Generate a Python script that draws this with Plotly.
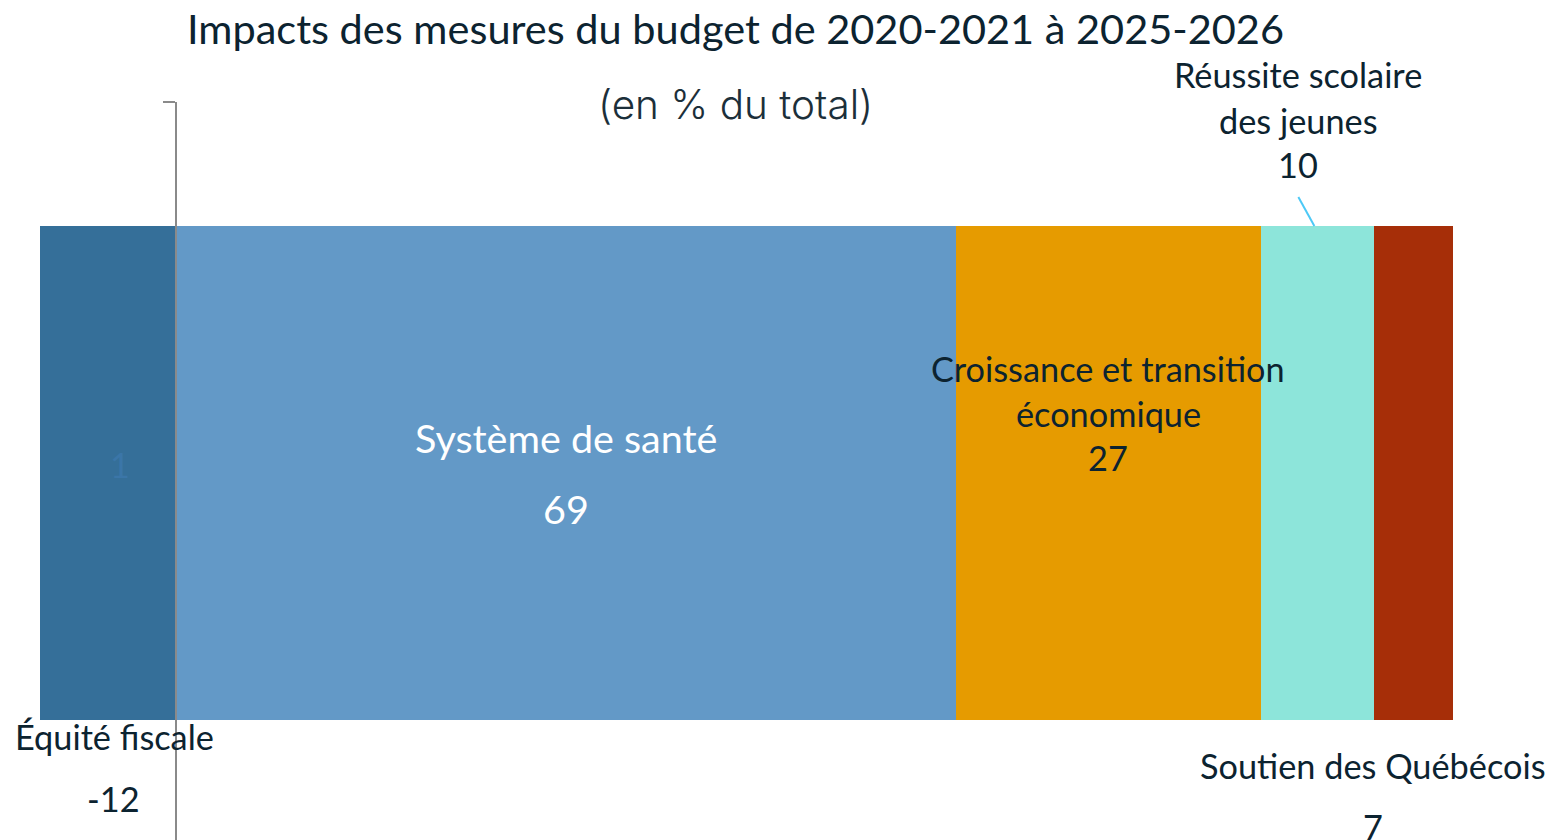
import plotly.graph_objects as go

# Budget measures, share of total impact (%)
categories = [
    "Équité fiscale",
    "Système de santé",
    "Croissance et transition économique",
    "Réussite scolaire des jeunes",
    "Soutien des Québécois",
]
values = [-12, 69, 27, 10, 7]
bar_colors = ["#356f99", "#6399c7", "#e69b00", "#8de5da", "#a62e08"]

title_text = "Impacts des mesures du budget de 2020-2021 à 2025-2026"
subtitle_text = "(en % du total)"

W, H = 1549, 840
X_RANGE = [-15.58, 121.5]
Y_RANGE = [-0.497, 0.503]
TOP, BOTTOM = 102, 0
FONT = "Lato"
DARK = "#0c2330"

fig = go.Figure()
for name, v, c in zip(categories, values, bar_colors):
    fig.add_trace(go.Bar(
        y=[0], x=[v], orientation="h", name=name,
        marker=dict(color=c, line=dict(width=0)),
        width=0.669, showlegend=False, hoverinfo="x+name",
    ))

# segment centres along the stacked bar
centres = []
pos, neg = 0.0, 0.0
for v in values:
    if v < 0:
        centres.append(neg + v / 2)
        neg += v
    else:
        centres.append(pos + v / 2)
        pos += v

plot_h = H - TOP - BOTTOM


def py(px):
    """pixel row -> paper y"""
    return (H - BOTTOM - px) / plot_h


annotations = []


def label(text, x, row, size=34.3, color=DARK, xshift=0, xref="x",
          weight=400, family=FONT):
    annotations.append(dict(
        text=text, x=x, y=py(row), xref=xref, yref="paper",
        xanchor="center", yanchor="middle", showarrow=False,
        xshift=xshift,
        font=dict(family=family, size=size, color=color, weight=weight),
    ))


# titles
label(title_text, 735 / W, 28, size=41.5, xref="paper")
label(subtitle_text, 735 / W, 104, size=40.5, color="#1c2f3a", xref="paper",
      weight=300, family="Inter")

# Équité fiscale (below the bar)
label(categories[0], centres[0], 736, xshift=6)
label(str(values[0]), centres[0], 798, xshift=5)
label("1", centres[0], 465, color="#3b76a8", xshift=12)

# Système de santé (inside)
label(categories[1], centres[1], 437, size=39.5, color="white")
label(str(values[1]), centres[1], 508, size=39.5, color="white")

# Croissance et transition économique (inside)
label("Croissance et transition", centres[2], 368)
label("économique", centres[2], 413)
label(str(values[2]), centres[2], 457)

# Réussite scolaire des jeunes (above, with leader line)
label("Réussite scolaire", centres[3], 75, xshift=-19)
label("des jeunes", centres[3], 120, xshift=-19)
label(str(values[3]), centres[3], 164, xshift=-19)

# Soutien des Québécois (below)
label(categories[4], centres[4], 765, xshift=-40)
label(str(values[4]), centres[4], 826, xshift=-40)

px_per_unit = W / (X_RANGE[1] - X_RANGE[0])
fig.add_shape(
    type="line", xref="x", yref="paper",
    x0=centres[3] - 19 / px_per_unit, x1=centres[3] - 3 / px_per_unit,
    y0=py(197), y1=py(226),
    line=dict(color="#4dc9f6", width=2), layer="above",
)

axis_pos = (0 - X_RANGE[0]) / (X_RANGE[1] - X_RANGE[0])

fig.update_layout(
    width=W, height=H,
    margin=dict(l=0, r=0, t=TOP, b=BOTTOM, pad=0),
    barmode="relative", bargap=0,
    paper_bgcolor="white", plot_bgcolor="white",
    font=dict(family=FONT, color=DARK),
    annotations=annotations,
    xaxis=dict(range=X_RANGE, visible=False, fixedrange=True),
    yaxis=dict(
        range=Y_RANGE, anchor="free", position=axis_pos,
        showline=True, linecolor="#8a8a8a", linewidth=1.5,
        ticks="outside", tickvals=[Y_RANGE[1]], ticklen=12,
        tickcolor="#8a8a8a", tickwidth=1.5,
        showticklabels=False, showgrid=False, zeroline=False,
        fixedrange=True,
    ),
)

fig.write_html("out.html")
